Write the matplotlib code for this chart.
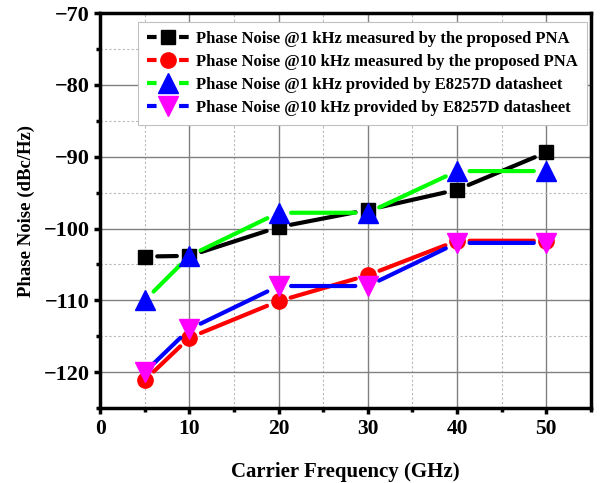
import matplotlib
matplotlib.use("Agg")
import matplotlib.pyplot as plt
from matplotlib.lines import Line2D
from matplotlib.ticker import MultipleLocator

# Carrier frequency (GHz) and phase noise (dBc/Hz)
freq = [5, 10, 20, 30, 40, 50]
pn_1k_pna = [-103.9, -103.8, -99.8, -97.4, -94.6, -89.4]
pn_10k_pna = [-121.1, -115.2, -110.1, -106.5, -101.7, -101.7]
pn_1k_e8257 = [-110, -103.8, -97.8, -97.8, -92, -92]
pn_10k_e8257 = [-120, -114, -108, -108, -102, -102]

labels = [
    "Phase Noise @1 kHz measured by the proposed PNA",
    "Phase Noise @10 kHz measured by the proposed PNA",
    "Phase Noise @1 kHz provided by E8257D datasheet",
    "Phase Noise @10 kHz provided by E8257D datasheet",
]

plt.rcParams['font.family'] = ['Liberation Serif', 'DejaVu Serif']
plt.rcParams['font.weight'] = 'bold'

fig = plt.figure(figsize=(6.03, 4.83), dpi=100)
ax = fig.add_axes([0.166, 0.155, 0.814, 0.818])

# (values, line colour, marker, marker size, marker colour)
series = [
    (pn_1k_pna, 'black', 's', 10, 'black'),
    (pn_10k_pna, 'red', 'o', 11, 'red'),
    (pn_1k_e8257, '#00ff00', '^', 14, 'blue'),
    (pn_10k_e8257, 'blue', 'v', 14, 'magenta'),
]

handles = []
for k, (vals, lc, mk, ms, mc) in enumerate(series):
    # Origin style: line segments stop short of the symbols
    for i in range(len(freq) - 1):
        ax.annotate('', xy=(freq[i + 1], vals[i + 1]), xytext=(freq[i], vals[i]),
                    arrowprops=dict(arrowstyle='-', color=lc, lw=3,
                                    shrinkA=9, shrinkB=9),
                    zorder=2 + k)
    ax.plot(freq, vals, ls='none', marker=mk, ms=ms, mfc=mc, mec=mc, zorder=2.5 + k)
    handles.append(Line2D([], [], color=lc, lw=3, ls=(0, (2.3, 5.4)),
                          marker=mk, ms=ms, mfc=mc, mec=mc))

ax.set_xlim(0, 55)
ax.set_ylim(-125, -70)
ax.xaxis.set_major_locator(MultipleLocator(10))
ax.xaxis.set_minor_locator(MultipleLocator(5))
ax.yaxis.set_major_locator(MultipleLocator(10))
ax.yaxis.set_minor_locator(MultipleLocator(5))

ax.grid(which='major', color='#808080', lw=1, ls='-')
ax.grid(which='minor', color='#b8b8b8', lw=0.8, ls=(0, (2, 2)))
ax.set_axisbelow(True)

for s in ax.spines.values():
    s.set_linewidth(2.5)
ax.tick_params(which='major', direction='out', length=4.5, width=2.5, pad=3,
               top=False, right=False)
ax.tick_params(which='minor', direction='out', length=3, width=2.5,
               top=False, right=False)
ax.tick_params(axis='x', labelsize=15.5)
ax.tick_params(axis='y', labelsize=16)

ax.set_xlabel("Carrier Frequency (GHz)", fontsize=15, fontweight='bold', labelpad=17)
ax.set_ylabel("Phase Noise (dBc/Hz)", fontsize=13.5, fontweight='bold', labelpad=6)

leg = ax.legend(handles, labels, loc='upper right', bbox_to_anchor=(0.992, 0.977),
                borderaxespad=0, fontsize=12, frameon=True, fancybox=False,
                edgecolor='#c0c0c0', handlelength=2.5, labelspacing=0.42,
                borderpad=0.55, handletextpad=0.45, framealpha=1)
leg.get_frame().set_linewidth(0.8)
for t in leg.get_texts():
    t.set_fontweight('bold')

fig.savefig("out.png", dpi=100)
